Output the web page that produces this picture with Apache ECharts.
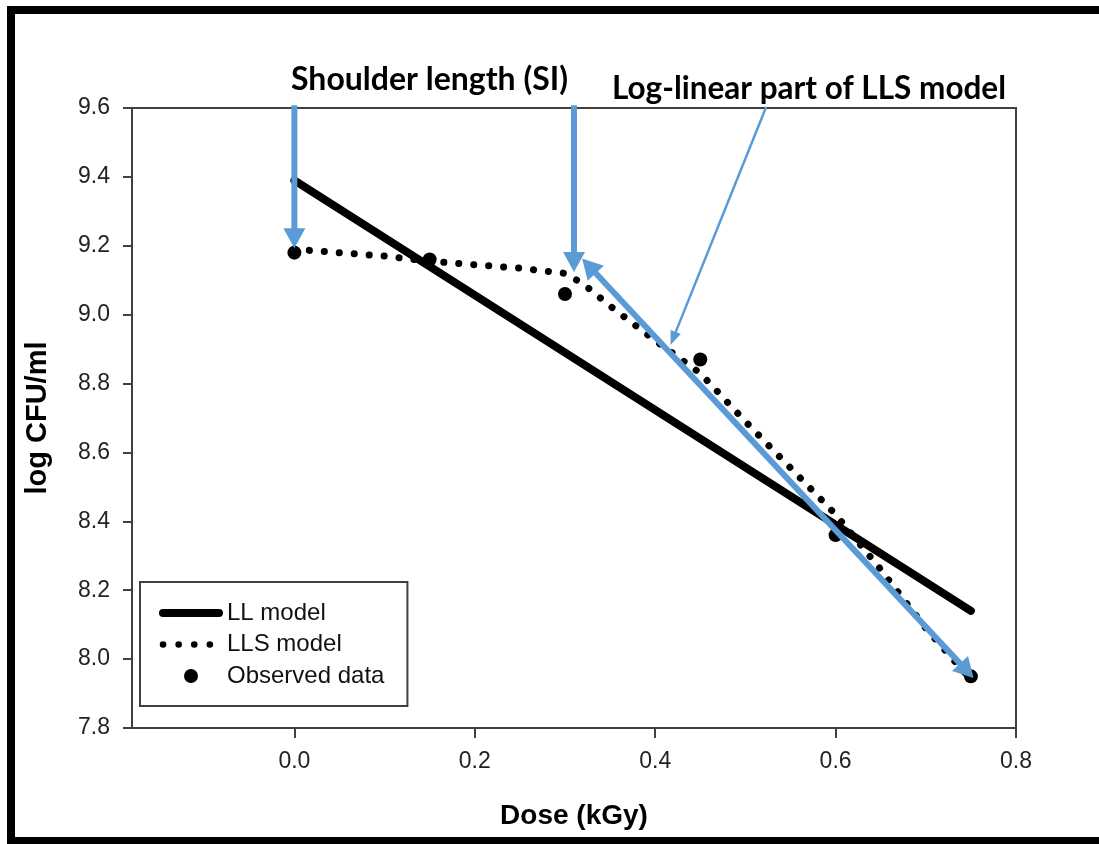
<!DOCTYPE html>
<html>
<head>
<meta charset="utf-8">
<script src="https://cdn.jsdelivr.net/npm/echarts@6/dist/echarts.min.js"></script>
<style>
  html, body { margin: 0; padding: 0; background: #fff; }
  #chart { width: 1099px; height: 844px; }
</style>
</head>
<body>
<div id="chart"></div>
<script>
// ---- data ----
const xTicks = [0.0, 0.2, 0.4, 0.6, 0.8];
const observedDose = [0.00, 0.15, 0.30, 0.45, 0.60, 0.75];
const observedLog  = [9.18, 9.16, 9.06, 8.87, 8.36, 7.95];
const llDose = [0.00, 0.75];
const llLog  = [9.39, 8.14];
const llsDose = [0.00, 0.05, 0.10, 0.15, 0.20, 0.25, 0.30, 0.32, 0.35, 0.40, 0.45, 0.50, 0.55, 0.60, 0.65, 0.70, 0.75];
const llsLog  = [9.19, 9.18, 9.17, 9.155, 9.145, 9.135, 9.12, 9.09, 9.025, 8.925, 8.83, 8.69, 8.555, 8.42, 8.26, 8.09, 7.94];
// annotation arrows in data coordinates (start, tip)
const arrowFrom = [[0.000, 9.608], [0.310, 9.608], [0.523, 9.603], [0.319, 9.163]];
const arrowTo   = [[0.000, 9.193], [0.310, 9.124], [0.417, 8.912], [0.753, 7.945]];
const arrowKind = ['thick', 'thick', 'thin', 'double'];
const noteTexts = ['Shoulder length (SI)', 'Log-linear part of LLS model'];

const pair = (xs, ys) => xs.map((x, i) => [x, ys[i]]);

const chart = echarts.init(document.getElementById('chart'), null, { renderer: 'canvas' });
const BLUE = '#5B9BD5';
const AXIS = '#404040';
const SANS = "Liberation Sans";

const option = {
  animation: false,
  backgroundColor: '#fff',
  title: [
    { text: noteTexts[0], left: 286, top: 59, textStyle: { fontFamily: 'Lato', fontWeight: 'bold', fontSize: 32, color: '#000' } },
    { text: noteTexts[1], left: 607, top: 68, textStyle: { fontFamily: 'Lato', fontWeight: 'bold', fontSize: 31.5, color: '#000' } }
  ],
  grid: { left: 132, right: 83, top: 108, bottom: 116, show: true, borderColor: AXIS, borderWidth: 2, backgroundColor: 'transparent' },
  xAxis: {
    type: 'value', min: -0.18, max: 0.8,
    name: 'Dose (kGy)', nameLocation: 'middle', nameGap: 74,
    nameTextStyle: { fontFamily: SANS, fontWeight: 'bold', fontSize: 28, color: '#000' },
    axisLine: { show: true, onZero: false, lineStyle: { color: AXIS, width: 2 } },
    axisTick: { show: true, length: 10, customValues: xTicks, lineStyle: { color: AXIS, width: 2 } },
    axisLabel: { customValues: xTicks, margin: 22, fontFamily: SANS, fontSize: 23, color: '#222', formatter: v => v.toFixed(1) },
    splitLine: { show: false }
  },
  yAxis: {
    type: 'value', min: 7.8, max: 9.6, interval: 0.2,
    name: 'log CFU/ml', nameLocation: 'middle', nameGap: 80, nameRotate: 90,
    nameTextStyle: { fontFamily: SANS, fontWeight: 'bold', fontSize: 29, color: '#000' },
    axisLine: { show: true, onZero: false, lineStyle: { color: AXIS, width: 2 } },
    axisTick: { show: true, length: 9, lineStyle: { color: AXIS, width: 2 } },
    axisLabel: { margin: 22, fontFamily: SANS, fontSize: 23, color: '#222', formatter: v => v.toFixed(1) },
    splitLine: { show: false }
  },
  legend: {
    orient: 'vertical', left: 140, top: 582,
    padding: [19, 23, 18, 19],
    borderColor: AXIS, borderWidth: 2, backgroundColor: '#fff',
    itemWidth: 56, itemHeight: 14, itemGap: 7.5,
    textStyle: { fontFamily: SANS, fontSize: 24, color: '#111', lineHeight: 24, padding: [0, 0, 0, 3] },
    data: [
      { name: 'LL model', itemStyle: { opacity: 0 }, lineStyle: { width: 8, cap: 'round' } },
      { name: 'LLS model', itemStyle: { opacity: 0 }, lineStyle: { width: 6.5, cap: 'round', type: [0.1, 15.5] } },
      { name: 'Observed data' }
    ]
  },
  series: [
    {
      name: 'LL model', type: 'line', data: pair(llDose, llLog),
      symbol: 'none', lineStyle: { color: '#000', width: 8, cap: 'round' }, itemStyle: { color: '#000' }, z: 2
    },
    {
      name: 'LLS model', type: 'line', data: pair(llsDose, llsLog),
      symbol: 'none', lineStyle: { color: '#000', width: 7, type: [0.1, 14.9], cap: 'round' }, itemStyle: { color: '#000' }, z: 3
    },
    {
      name: 'Observed data', type: 'scatter', data: pair(observedDose, observedLog),
      symbol: 'circle', symbolSize: 14, itemStyle: { color: '#000', opacity: 1 }, z: 4
    }
  ]
};
chart.setOption(option);

function arrowGraphics() {
  const els = [];
  arrowFrom.forEach((from, i) => {
    const kind = arrowKind[i];
    const p1 = chart.convertToPixel({ gridIndex: 0 }, from);
    const p2 = chart.convertToPixel({ gridIndex: 0 }, arrowTo[i]);
    const thin = kind === 'thin';
    const w = thin ? 2.5 : 6;
    const hl = thin ? 14 : 20;   // head length
    const hw = thin ? 11 : 22;   // head width
    const dx = p2[0] - p1[0], dy = p2[1] - p1[1];
    const L = Math.hypot(dx, dy);
    const ux = dx / L, uy = dy / L, nx = -uy, ny = ux;
    const head = (tip, dirx, diry) => {
      const bx = tip[0] - dirx * hl, by = tip[1] - diry * hl;
      return {
        type: 'polygon', z: 100,
        shape: { points: [tip, [bx + nx * hw / 2, by + ny * hw / 2], [bx - nx * hw / 2, by - ny * hw / 2]] },
        style: { fill: BLUE }
      };
    };
    let s = p1;
    const e = [p2[0] - ux * (hl - 2), p2[1] - uy * (hl - 2)];
    els.push(head(p2, ux, uy));
    if (kind === 'double') {
      els.push(head(p1, -ux, -uy));
      s = [p1[0] + ux * (hl - 2), p1[1] + uy * (hl - 2)];
    }
    els.push({ type: 'line', z: 100, shape: { x1: s[0], y1: s[1], x2: e[0], y2: e[1] }, style: { stroke: BLUE, lineWidth: w } });
  });
  // outer frame of the figure (left, top and bottom edges visible)
  els.push({ type: 'rect', z: 101, silent: true, shape: { x: 11, y: 10, width: 1110, height: 831 }, style: { fill: 'none', stroke: '#000', lineWidth: 8 } });
  return els;
}
chart.setOption({ graphic: arrowGraphics() });
</script>
</body>
</html>
